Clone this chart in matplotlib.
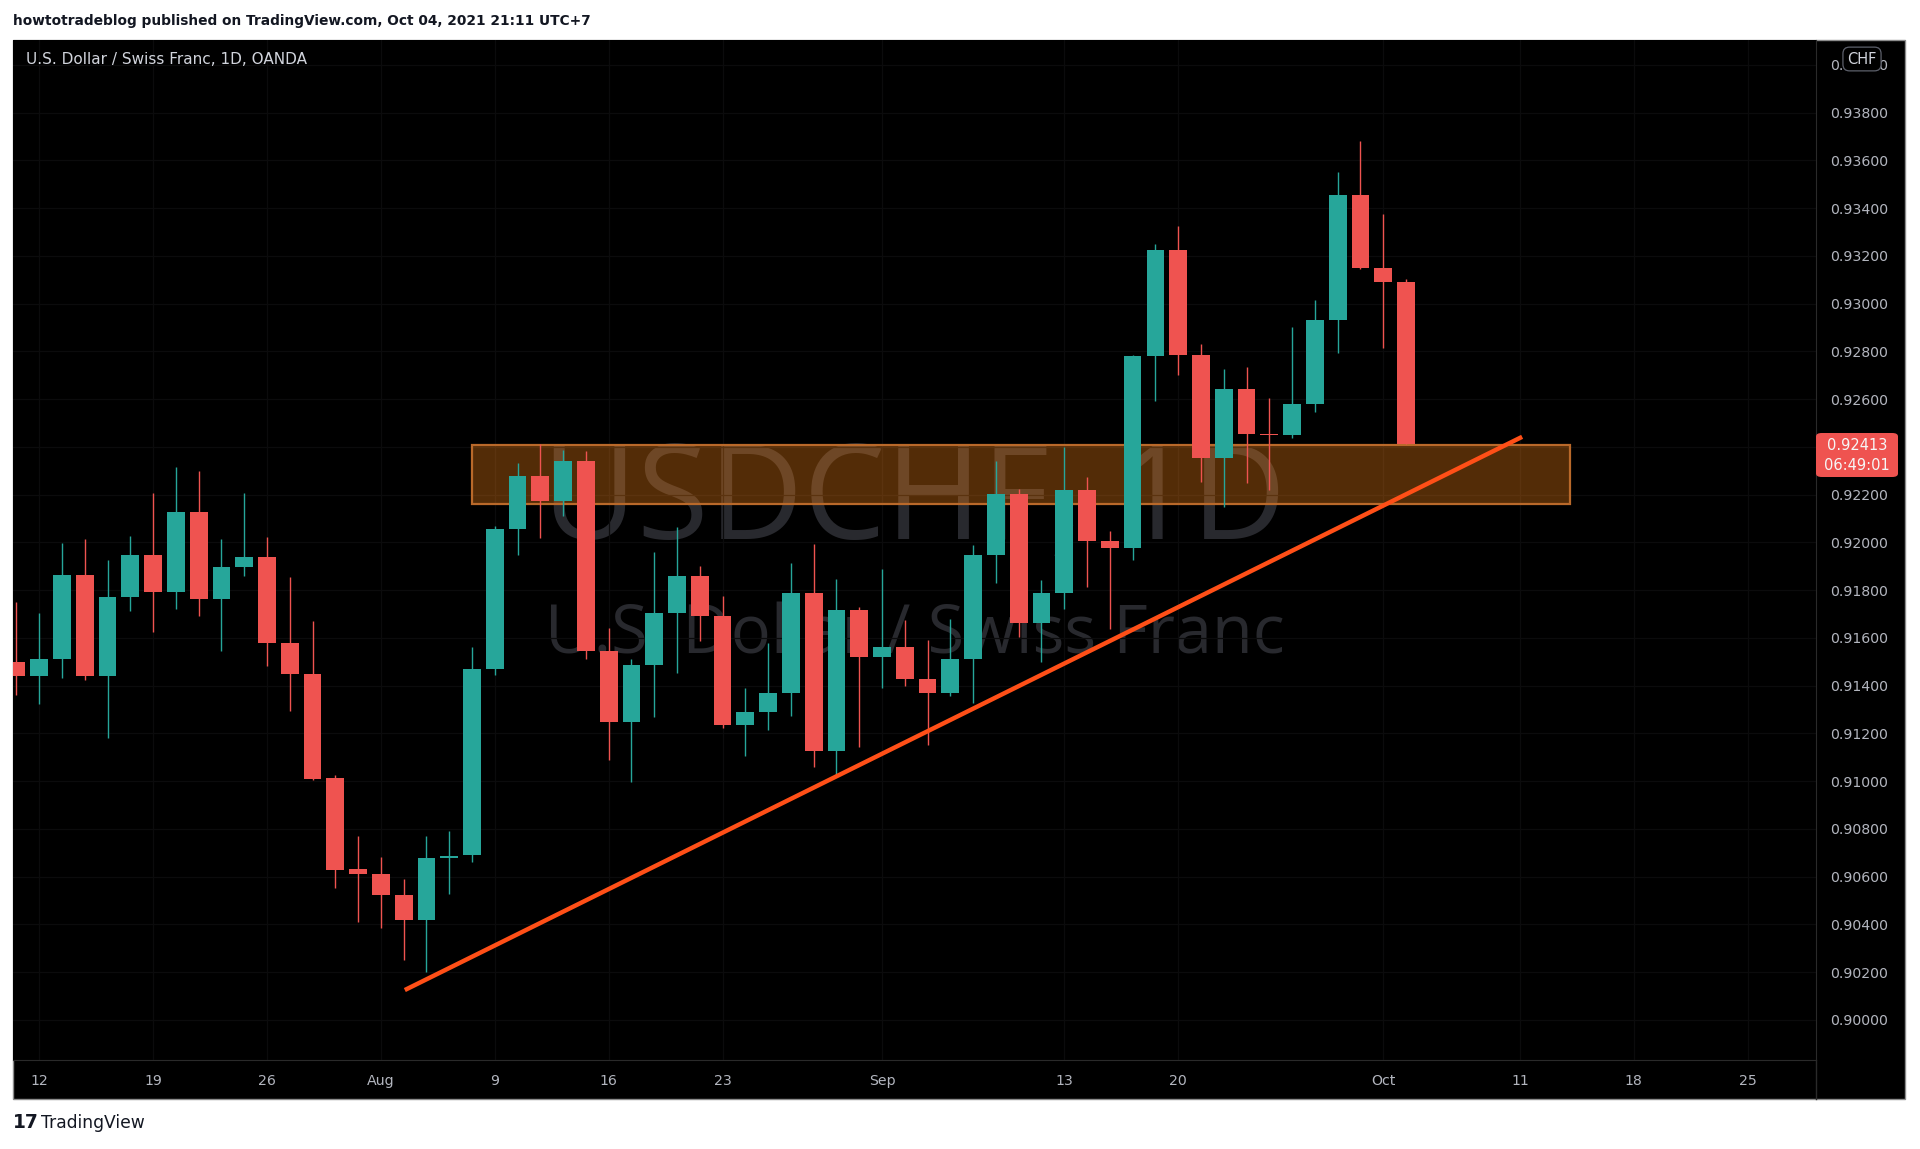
import matplotlib
matplotlib.use("Agg")
import matplotlib.pyplot as plt
from matplotlib.patches import Rectangle, FancyBboxPatch
import numpy as np

# ---------------- data ----------------
bar_index = list(range(-1, 61))  # Jul 09 2021 ... Oct 04 2021 (daily bars)
opens = [0.91501, 0.91439, 0.91513, 0.91865, 0.91442, 0.91770, 0.91947, 0.91791, 0.92127, 0.91763,
         0.91896, 0.91938, 0.91577, 0.91449, 0.91011, 0.90632, 0.90610, 0.90525, 0.90419, 0.90679,
         0.90691, 0.91468, 0.92056, 0.92277, 0.92174, 0.92340, 0.91547, 0.91247, 0.91485, 0.91703,
         0.91858, 0.91693, 0.91236, 0.91291, 0.91371, 0.91786, 0.91125, 0.91717, 0.91519, 0.91562,
         0.91429, 0.91371, 0.91510, 0.91948, 0.92204, 0.91664, 0.91789, 0.92219, 0.92005, 0.91977,
         0.92780, 0.93226, 0.92783, 0.92355, 0.92642, 0.92454, 0.92450, 0.92579, 0.92933, 0.93453,
         0.93150, 0.93091]
highs = [0.91751, 0.91704, 0.91997, 0.92013, 0.91928, 0.92028, 0.92205, 0.92314, 0.92300, 0.92013,
         0.92208, 0.92021, 0.91857, 0.91670, 0.91025, 0.90769, 0.90684, 0.90588, 0.90772, 0.90791,
         0.91560, 0.92068, 0.92333, 0.92412, 0.92388, 0.92384, 0.91641, 0.91512, 0.91959, 0.92063,
         0.91901, 0.91777, 0.91392, 0.91579, 0.91915, 0.91994, 0.91848, 0.91731, 0.91890, 0.91675,
         0.91592, 0.91680, 0.91987, 0.92340, 0.92222, 0.91844, 0.92398, 0.92273, 0.92049, 0.92785,
         0.93248, 0.93323, 0.92830, 0.92724, 0.92733, 0.92603, 0.92903, 0.93014, 0.93550, 0.93683,
         0.93376, 0.93105]
lows = [0.91361, 0.91321, 0.91430, 0.91423, 0.91181, 0.91714, 0.91626, 0.91719, 0.91692, 0.91545,
        0.91859, 0.91483, 0.91295, 0.91005, 0.90551, 0.90408, 0.90386, 0.90249, 0.90201, 0.90529,
        0.90662, 0.91446, 0.91945, 0.92019, 0.92109, 0.91512, 0.91088, 0.90998, 0.91270, 0.91451,
        0.91586, 0.91222, 0.91106, 0.91216, 0.91274, 0.91060, 0.91025, 0.91143, 0.91392, 0.91399,
        0.91153, 0.91357, 0.91327, 0.91828, 0.91603, 0.91500, 0.91720, 0.91811, 0.91637, 0.91927,
        0.92593, 0.92701, 0.92251, 0.92150, 0.92248, 0.92220, 0.92436, 0.92547, 0.92791, 0.93146,
        0.92812, 0.92413]
closes = [0.91439, 0.91513, 0.91865, 0.91442, 0.91773, 0.91947, 0.91791, 0.92127, 0.91763, 0.91896,
          0.91938, 0.91577, 0.91449, 0.91008, 0.90629, 0.90610, 0.90522, 0.90419, 0.90679, 0.90688,
          0.91471, 0.92056, 0.92277, 0.92174, 0.92340, 0.91547, 0.91247, 0.91485, 0.91703, 0.91858,
          0.91693, 0.91236, 0.91291, 0.91371, 0.91786, 0.91125, 0.91717, 0.91519, 0.91562, 0.91429,
          0.91371, 0.91510, 0.91948, 0.92204, 0.91664, 0.91789, 0.92219, 0.92005, 0.91977, 0.92780,
          0.93226, 0.92783, 0.92355, 0.92642, 0.92454, 0.92450, 0.92579, 0.92933, 0.93453, 0.93150,
          0.93091, 0.92413]

xtick_pos = [0, 5, 10, 15, 20, 25, 30, 37, 45, 50, 59, 65, 70, 75]
xtick_labels = ["12", "19", "26", "Aug", "9", "16", "23", "Sep", "13", "20", "Oct", "11", "18", "25"]
price_ticks = [round(0.900 + 0.002 * k, 3) for k in range(21)]

zone_x = [19.0, 67.2]
zone_y = [0.92160, 0.92408]
trend_x = [16.05, 65.1]
trend_y = [0.90125, 0.92442]
last_price = 0.92413
countdown = "06:49:01"

header = "howtotradeblog published on TradingView.com, Oct 04, 2021 21:11 UTC+7"
legend_title = "U.S. Dollar / Swiss Franc, 1D, OANDA"
wm_line1 = "USDCHF, 1D"
wm_line2 = "U.S. Dollar / Swiss Franc"

# ---------------- styling ----------------
W, H = 1920, 1149
UP = "#26a69a"
DOWN = "#ef5350"
BG = "#000000"
TXT = "#b2b5be"
GRID = "#0b0b0c"

def fx(px):
    return px / W

def fy(py):
    return 1 - py / H

fig = plt.figure(figsize=(W / 100, H / 100), dpi=100, facecolor="white")

# black chart frame (behind everything)
frame = Rectangle((fx(13), fy(1099)), fx(1905) - fx(13), fy(40) - fy(1099),
                  transform=fig.transFigure, facecolor=BG, edgecolor="#8c8c8c",
                  linewidth=1.0, zorder=-10)
fig.patches.append(frame)

ax = fig.add_axes([fx(13), fy(1060), fx(1816) - fx(13), fy(40) - fy(1060)])
ax.set_zorder(1)
ax.set_facecolor(BG)
ax.set_xlim(-1.15, 78.0)
ax.set_ylim(0.89832, 0.94104)

for s in ["left", "top"]:
    ax.spines[s].set_visible(False)
ax.spines["bottom"].set_color("#2a2a2a")
ax.spines["right"].set_color("#2a2a2a")

# ticks
ax.yaxis.tick_right()
ax.set_yticks(price_ticks)
ax.set_yticklabels(["" if abs(v - 0.924) < 1e-9 else f"{v:.5f}" for v in price_ticks])
ax.set_xticks(xtick_pos)
ax.set_xticklabels(xtick_labels)
ax.tick_params(axis="y", length=0, pad=10.5, labelsize=10.2, labelcolor=TXT)
ax.tick_params(axis="x", length=0, pad=10, labelsize=10.2, labelcolor=TXT)
ax.grid(True, color=GRID, linewidth=0.9, zorder=0)
ax.set_axisbelow(True)

# watermark
ax.text(0.5, (1060 - 539) / 1020, wm_line1, transform=ax.transAxes, ha="center",
        va="baseline", fontsize=94, color="#28292e", family=["Open Sans", "DejaVu Sans"],
        zorder=0.5)
ax.text(0.5, (1060 - 653) / 1020, wm_line2, transform=ax.transAxes, ha="center",
        va="baseline", fontsize=48, color="#28292e", family=["Open Sans", "DejaVu Sans"],
        zorder=0.5)

# zone
zone = Rectangle((zone_x[0], zone_y[0]), zone_x[1] - zone_x[0], zone_y[1] - zone_y[0],
                 facecolor=(1.0, 0.53, 0.09, 0.33), edgecolor="#b9692a", linewidth=1.6,
                 zorder=1)
ax.add_patch(zone)

# candles
o = np.array(opens); h = np.array(highs); l = np.array(lows); c = np.array(closes)
x = np.array(bar_index)
colors = [UP if cc >= oo else DOWN for oo, cc in zip(o, c)]
ax.vlines(x, l, h, colors=colors, linewidth=1.0, zorder=2)
body_bottom = np.minimum(o, c)
body_h = np.maximum(np.abs(c - o), 0.00004)
ax.bar(x, body_h, bottom=body_bottom, width=0.78, color=colors, linewidth=0, zorder=3)

# trend line
ax.plot(trend_x, trend_y, color="#ff4f17", linewidth=3.2, solid_capstyle="butt", zorder=4)

# last price tag
tag = FancyBboxPatch((fx(1816), fy(477)), fx(1898) - fx(1816), fy(433) - fy(477),
                     boxstyle="round,pad=0,rounding_size=0.003", transform=fig.transFigure,
                     facecolor=DOWN, edgecolor="none", zorder=5)
fig.patches.append(tag)
fig.text(fx(1857), fy(446), f"{last_price:.5f}", color="#f6f6f6", fontsize=10.5,
         va="center", ha="center", zorder=6)
fig.text(fx(1857), fy(465), countdown, color="#f6f6f6", fontsize=10.5,
         va="center", ha="center", zorder=6)

# CHF box (covers the top 0.94000 label, as in the reference)
fig.text(fx(1862), fy(59), "CHF", color="#d1d4dc", fontsize=10.5, ha="center", va="center",
         bbox=dict(boxstyle="round,pad=0.3,rounding_size=0.45", facecolor=BG,
                   edgecolor="#5d606b", linewidth=0.9), zorder=6)

# separator line inside time axis row
fig.add_artist(plt.Line2D([fx(1816), fx(1816)], [fy(1060), fy(1099)], transform=fig.transFigure,
                          color="#2a2a2a", linewidth=1.0, zorder=2))

# texts
fig.text(fx(13), fy(21), header, color="#131722", fontsize=9.9, ha="left", va="center",
         fontweight="semibold")
fig.text(fx(26), fy(59), legend_title, color="#d1d4dc", fontsize=11, ha="left", va="center",
         zorder=6)
fig.text(fx(13), fy(1123), "17", color="#131722", fontsize=13.5, ha="left", va="center",
         fontweight="heavy")
fig.text(fx(41), fy(1123), "TradingView", color="#131722", fontsize=12.3, ha="left",
         va="center")

fig.savefig("out.png", dpi=100, facecolor="white")
